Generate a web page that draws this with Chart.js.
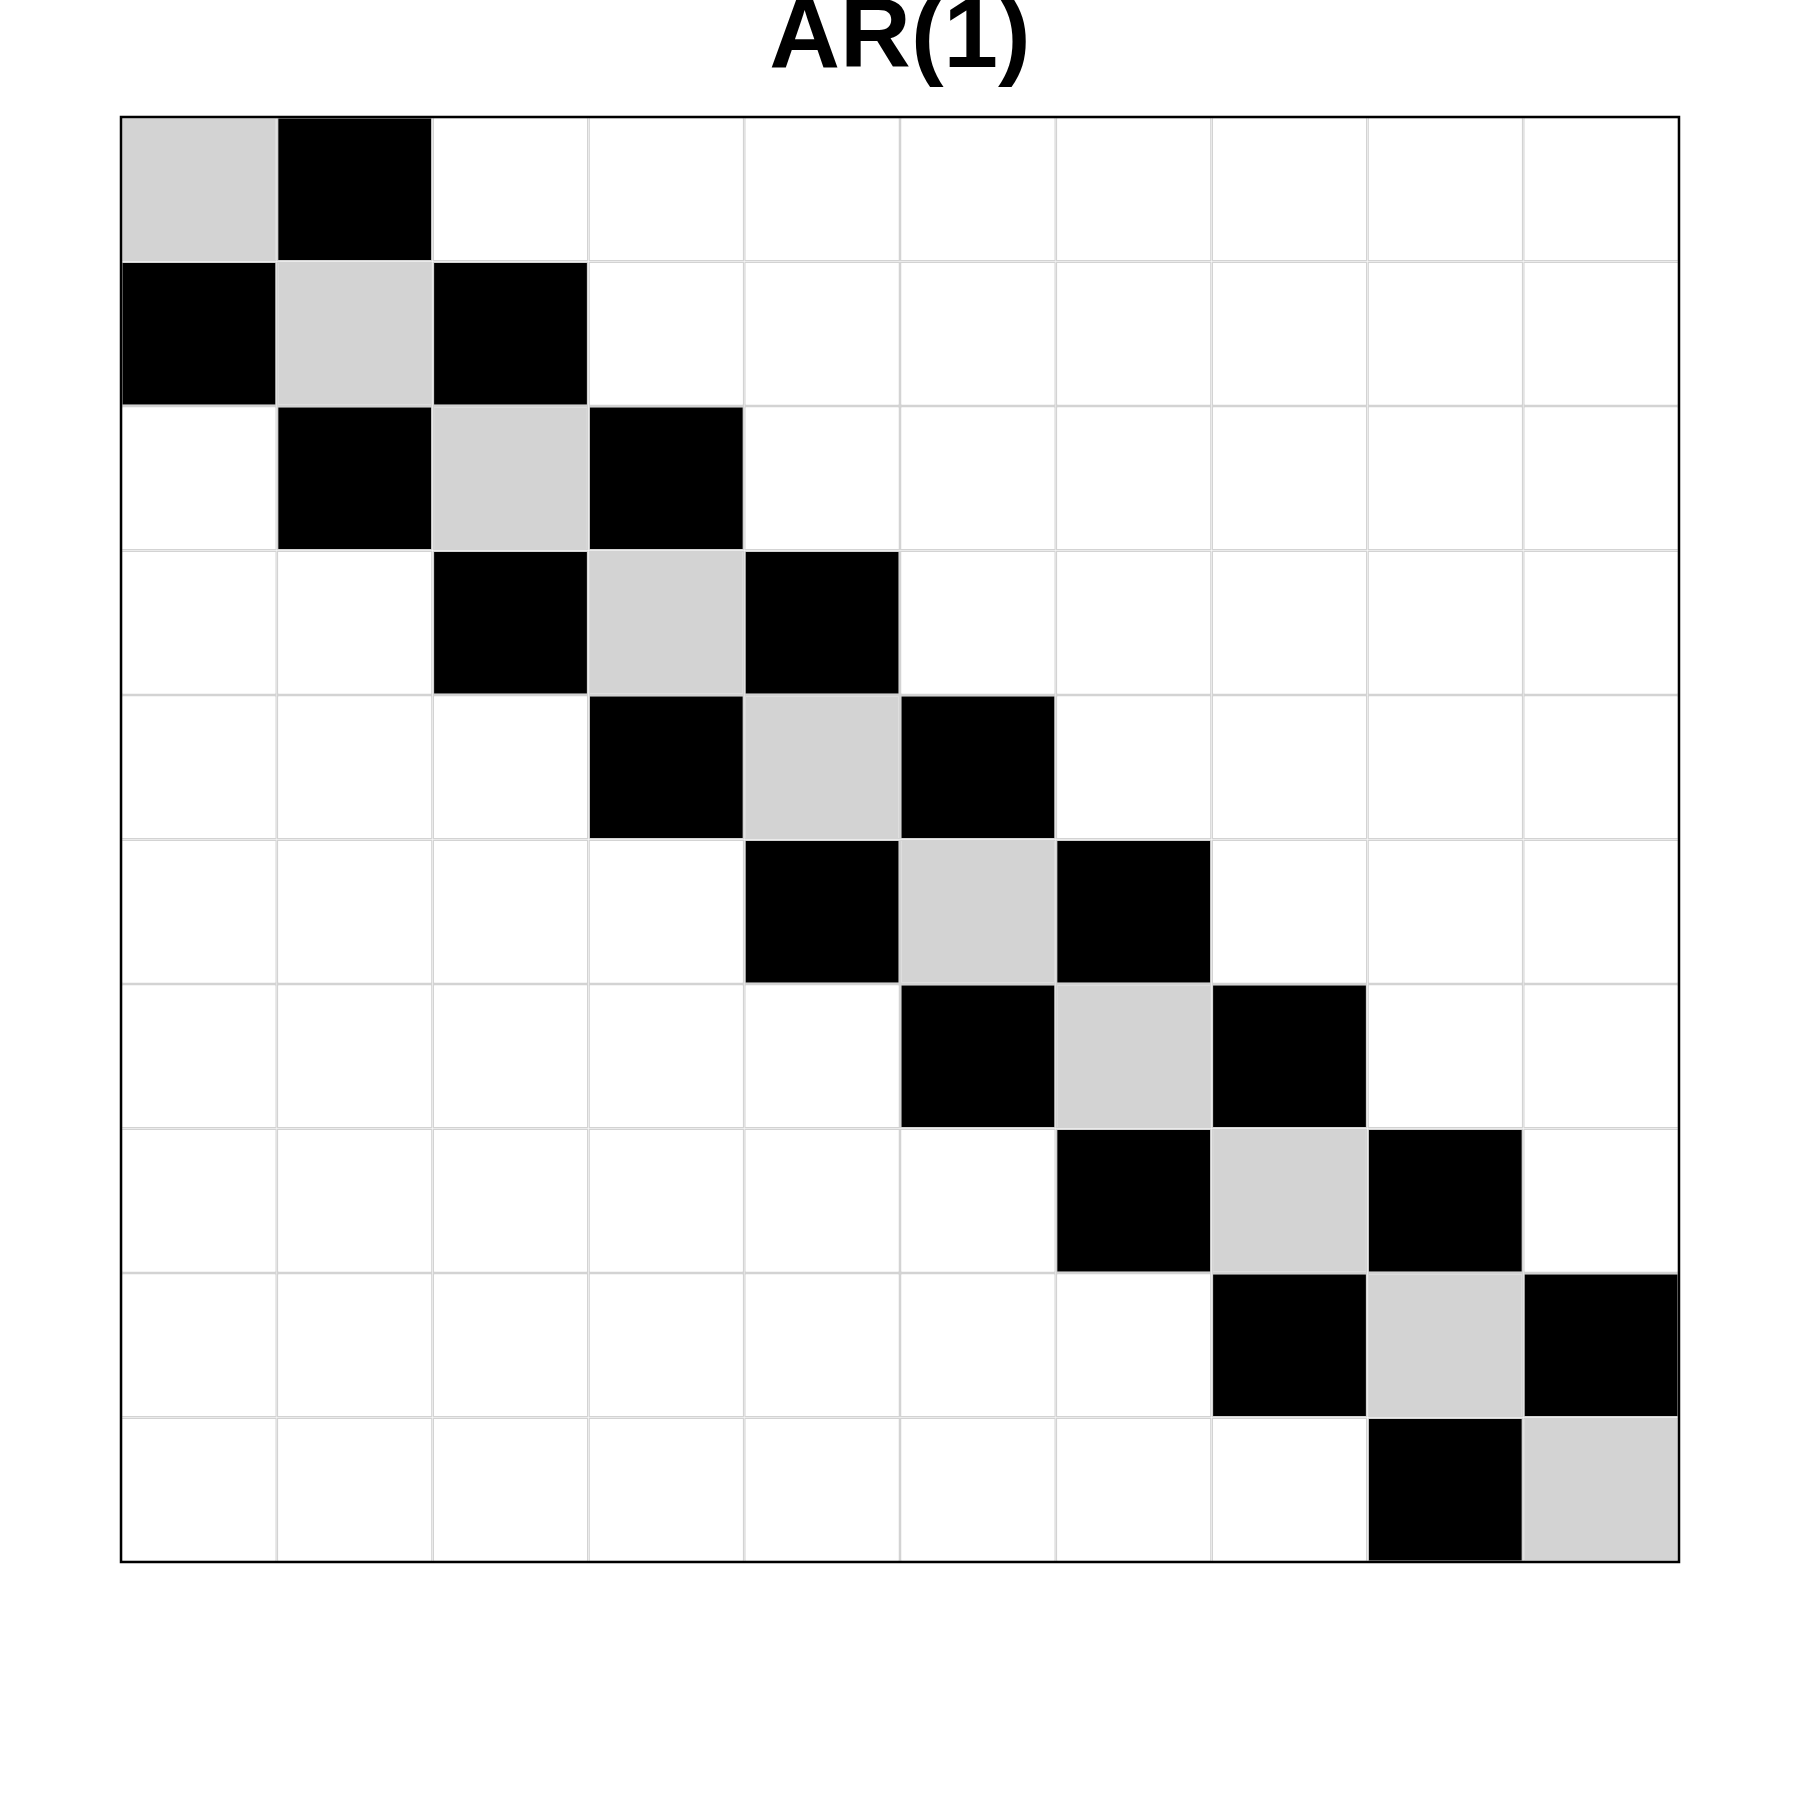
<!DOCTYPE html>
<html>
<head>
<meta charset="utf-8">
<title>AR(1)</title>
<script src="https://cdn.jsdelivr.net/npm/chart.js@4"></script>
<style>
    html, body { margin: 0; padding: 0; background: #ffffff; }
    .wrap { width: 1800px; height: 1800px; position: relative; }
</style>
</head>
<body>
<div class="wrap"><canvas id="matrix-chart" width="1800" height="1800"></canvas></div>
<script>
// columns / rows of the 10x10 matrix
const collabels = ["1", "2", "3", "4", "5", "6", "7", "8", "9", "10"];
const rowlabels = ["1", "2", "3", "4", "5", "6", "7", "8", "9", "10"];

// 2 = diagonal, 1 = nonzero neighbour, 0 = zero
const row1 = [2, 1, 0, 0, 0, 0, 0, 0, 0, 0];
const row2 = [1, 2, 1, 0, 0, 0, 0, 0, 0, 0];
const row3 = [0, 1, 2, 1, 0, 0, 0, 0, 0, 0];
const row4 = [0, 0, 1, 2, 1, 0, 0, 0, 0, 0];
const row5 = [0, 0, 0, 1, 2, 1, 0, 0, 0, 0];
const row6 = [0, 0, 0, 0, 1, 2, 1, 0, 0, 0];
const row7 = [0, 0, 0, 0, 0, 1, 2, 1, 0, 0];
const row8 = [0, 0, 0, 0, 0, 0, 1, 2, 1, 0];
const row9 = [0, 0, 0, 0, 0, 0, 0, 1, 2, 1];
const row10 = [0, 0, 0, 0, 0, 0, 0, 0, 1, 2];

const rows = [row1, row2, row3, row4, row5, row6, row7, row8, row9, row10];

const fills = ["#ffffff", "#000000", "#d3d3d3"];

const ctx = document.getElementById("matrix-chart").getContext("2d");

const frame = {
    id: "frame",
    afterDatasetsDraw(chart) {
        const { left, top, width, height } = chart.chartArea;
        const c = chart.ctx;
        c.save();
        c.strokeStyle = "#000000";
        c.lineWidth = 2.5;
        c.strokeRect(left, top, width, height);
        c.restore();
    },
};

const datasets = rows.map((row, i) => ({
    label: rowlabels[i],
    data: collabels.map(() => 1),
    backgroundColor: row.map((v) => fills[v]),
    borderColor: "#d3d3d3",
    borderWidth: 1.5,
    borderSkipped: false,
    inflateAmount: 0,
    categoryPercentage: 1,
    barPercentage: 1,
    stack: "matrix",
}));

const chart = new Chart(ctx, {
    type: "bar",
    data: {
        labels: collabels,
        datasets: datasets,
    },
    options: {
        responsive: false,
        animation: false,
        events: [],
        layout: {
            padding: { left: 121, right: 121, top: 0, bottom: 238 },
        },
        plugins: {
            legend: { display: false },
            tooltip: { enabled: false },
            title: {
                display: true,
                text: "AR(1)",
                color: "#000000",
                font: { family: "'Liberation Sans', Arial, Helvetica, sans-serif", size: 98, weight: "bold", lineHeight: 1 },
                padding: { top: -9, bottom: 28 },
            },
        },
        scales: {
            x: {
                display: false,
                stacked: true,
                offset: true,
            },
            y: {
                display: false,
                stacked: true,
                reverse: true,
                min: 0,
                max: rowlabels.length,
            },
        },
    },
    plugins: [frame],
});
</script>
</body>
</html>
